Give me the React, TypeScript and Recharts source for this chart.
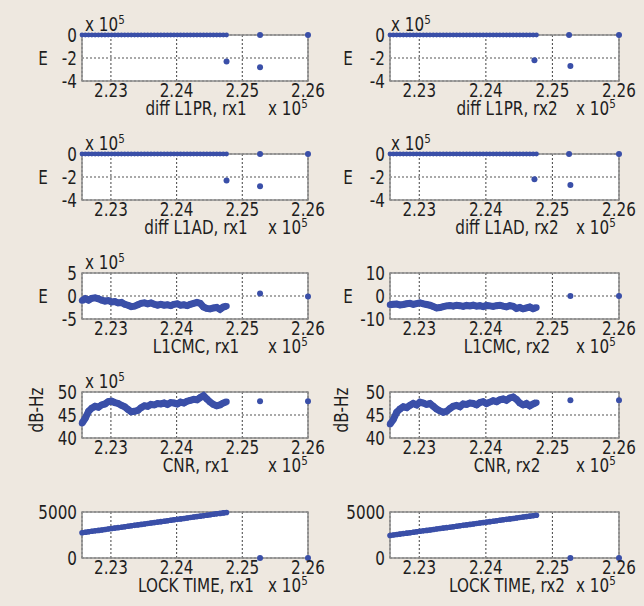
import { ComposedChart, Line, Scatter, XAxis, YAxis, CartesianGrid, ReferenceArea } from 'recharts';

// time axis (s), shared by every dense series
const TIMES = [
  222560, 222610, 222660, 222710, 222760, 222810, 222860, 222910, 222960, 223010,
  223060, 223110, 223160, 223210, 223260, 223310, 223360, 223410, 223460, 223510,
  223560, 223610, 223660, 223710, 223760, 223810, 223860, 223910, 223960, 224010,
  224060, 224110, 224160, 224210, 224260, 224310, 224360, 224410, 224460, 224510,
  224560, 224610, 224660, 224710, 224760,
];
const X_TICKS = [223000, 224000, 225000, 226000];

const DIFF_DENSE = [
  0, 0, 0, 0, 0, 0, 0, 0, 0, 0, 0, 0, 0, 0, 0, 0, 0, 0, 0, 0, 0, 0, 0,
  0, 0, 0, 0, 0, 0, 0, 0, 0, 0, 0, 0, 0, 0, 0, 0, 0, 0, 0, 0, 0, 0,
];
const DIFF_OUT_T_RX1 = [224760, 225270, 225270, 226000];
const DIFF_OUT_V_RX1 = [-2.3, 0, -2.8, 0];
const DIFF_OUT_T_RX2 = [224730, 225250, 225270, 226000];
const DIFF_OUT_V_RX2 = [-2.2, 0, -2.7, 0];

const L1CMC_RX1 = [
  -1.0, -0.6, -0.9, -0.5, -0.4, -0.6, -0.9, -1.1, -1.0, -1.3,
  -1.2, -1.5, -1.4, -1.8, -2.0, -2.3, -2.2, -1.9, -1.6, -1.5,
  -1.7, -1.5, -1.8, -2.0, -1.8, -2.0, -1.9, -2.1, -1.8, -1.7,
  -2.0, -1.9, -2.1, -1.8, -1.6, -1.4, -1.6, -2.4, -2.7, -2.8,
  -2.6, -2.5, -2.9, -2.4, -2.2,
];
const L1CMC_RX2 = [
  -3.8, -3.6, -3.5, -3.9, -3.7, -3.4, -3.2, -3.6, -3.3, -3.0,
  -3.4, -3.7, -4.0, -4.6, -5.2, -5.0, -4.6, -4.3, -4.1, -4.4,
  -4.0, -4.2, -4.5, -4.1, -4.3, -4.0, -4.4, -4.2, -4.6, -4.1,
  -4.3, -4.5, -4.2, -4.0, -4.4, -4.7, -4.2, -4.5, -5.4, -5.0,
  -5.6, -5.2, -4.8, -5.5, -5.0,
];
const CNR_RX1 = [
  43.2, 44.3, 45.8, 46.5, 46.9, 46.7, 47.2, 47.4, 47.9, 48.0,
  47.7, 47.5, 47.1, 46.8, 46.2, 45.7, 45.8, 46.0, 46.6, 47.0,
  46.9, 47.3, 47.2, 47.5, 47.4, 47.6, 47.3, 47.7, 47.6, 47.4,
  47.8, 47.6, 48.0, 48.2, 48.4, 48.3, 48.8, 49.2, 48.5, 47.8,
  47.3, 47.0, 47.2, 47.6, 47.9,
];
const CNR_RX2 = [
  43.0, 44.0, 45.6, 46.3, 46.8, 46.6, 47.1, 47.5, 47.2, 47.8,
  47.6, 47.3, 47.5, 46.9, 46.3, 45.9, 45.6, 45.8, 46.4, 46.9,
  47.1, 46.8, 47.4, 47.3, 47.6, 47.5, 47.2, 47.7, 47.9, 47.5,
  47.8, 48.1, 47.9, 48.3, 48.5, 48.2, 48.7, 48.9, 48.4, 47.6,
  47.2, 47.5, 47.0, 47.4, 47.7,
];
const LOCK_RX1 = [
  2750, 2800, 2850, 2900, 2950, 3000, 3050, 3100, 3150, 3200,
  3250, 3300, 3350, 3400, 3450, 3500, 3550, 3600, 3650, 3700,
  3750, 3800, 3850, 3900, 3950, 4000, 4050, 4100, 4150, 4200,
  4250, 4300, 4350, 4400, 4450, 4500, 4550, 4600, 4650, 4700,
  4750, 4800, 4850, 4900, 4950,
];
const LOCK_RX2 = [
  2450, 2500, 2550, 2600, 2650, 2700, 2750, 2800, 2850, 2900,
  2950, 3000, 3050, 3100, 3150, 3200, 3250, 3300, 3350, 3400,
  3450, 3500, 3550, 3600, 3650, 3700, 3750, 3800, 3850, 3900,
  3950, 4000, 4050, 4100, 4150, 4200, 4250, 4300, 4350, 4400,
  4450, 4500, 4550, 4600, 4650,
];
const OUT_T = [225270, 226000];
const L1CMC_OUT_RX1 = [0.55, -0.1];
const L1CMC_OUT_RX2 = [0, 0];
const CNR_OUT_RX1 = [48.0, 48.0];
const CNR_OUT_RX2 = [48.2, 48.2];
const LOCK_OUT = [0, 0];

const BLUE = '#3a4fa8';
const BG = '#eee8e0';
const INK = '#1e1e1e';
const FONT = '"DejaVu Sans", sans-serif';
const FS = 19;
const SX = 0.8; // horizontal squeeze, the original lettering is condensed
const Y_W = 40;
const PLOT_H = 46;
const M_TOP = 14;
const ROW_TOPS = [35, 154, 273, 392, 512];
const COLS = [
  { left: 0, width: 330, plotLeft: 82, plotRight: 308, titleX: 196, expX: 268, topExpX: 85, ylabX: 43 },
  { left: 320, width: 324, plotLeft: 390, plotRight: 619, titleX: 507, expX: 576, topExpX: 391, ylabX: 348 },
];

type PanelDef = {
  row: number;
  col: number;
  title: string;
  ylabel: string;
  topExp: boolean;
  dense: number[];
  outT: number[];
  outV: number[];
  yDomain: [number, number];
  yTicks: number[];
  lw: number;
  r: number;
};

const PANELS: PanelDef[] = [
  { row: 0, col: 0, title: 'diff L1PR, rx1', ylabel: 'E', topExp: true, dense: DIFF_DENSE, outT: DIFF_OUT_T_RX1, outV: DIFF_OUT_V_RX1, yDomain: [-4, 0], yTicks: [-4, -2, 0], lw: 4, r: 2.4 },
  { row: 0, col: 1, title: 'diff L1PR, rx2', ylabel: 'E', topExp: true, dense: DIFF_DENSE, outT: DIFF_OUT_T_RX2, outV: DIFF_OUT_V_RX2, yDomain: [-4, 0], yTicks: [-4, -2, 0], lw: 4, r: 2.4 },
  { row: 1, col: 0, title: 'diff L1AD, rx1', ylabel: 'E', topExp: true, dense: DIFF_DENSE, outT: DIFF_OUT_T_RX1, outV: DIFF_OUT_V_RX1, yDomain: [-4, 0], yTicks: [-4, -2, 0], lw: 4, r: 2.4 },
  { row: 1, col: 1, title: 'diff L1AD, rx2', ylabel: 'E', topExp: true, dense: DIFF_DENSE, outT: DIFF_OUT_T_RX2, outV: DIFF_OUT_V_RX2, yDomain: [-4, 0], yTicks: [-4, -2, 0], lw: 4, r: 2.4 },
  { row: 2, col: 0, title: 'L1CMC, rx1', ylabel: 'E', topExp: true, dense: L1CMC_RX1, outT: OUT_T, outV: L1CMC_OUT_RX1, yDomain: [-5, 5], yTicks: [-5, 0, 5], lw: 7, r: 3.2 },
  { row: 2, col: 1, title: 'L1CMC, rx2', ylabel: 'E', topExp: false, dense: L1CMC_RX2, outT: OUT_T, outV: L1CMC_OUT_RX2, yDomain: [-10, 10], yTicks: [-10, 0, 10], lw: 7, r: 3.2 },
  { row: 3, col: 0, title: 'CNR, rx1', ylabel: 'dB-Hz', topExp: true, dense: CNR_RX1, outT: OUT_T, outV: CNR_OUT_RX1, yDomain: [40, 50], yTicks: [40, 45, 50], lw: 7, r: 3.2 },
  { row: 3, col: 1, title: 'CNR, rx2', ylabel: 'dB-Hz', topExp: false, dense: CNR_RX2, outT: OUT_T, outV: CNR_OUT_RX2, yDomain: [40, 50], yTicks: [40, 45, 50], lw: 7, r: 3.2 },
  { row: 4, col: 0, title: 'LOCK TIME, rx1', ylabel: '', topExp: false, dense: LOCK_RX1, outT: OUT_T, outV: LOCK_OUT, yDomain: [0, 5000], yTicks: [0, 5000], lw: 5, r: 2.8 },
  { row: 4, col: 1, title: 'LOCK TIME, rx2', ylabel: '', topExp: false, dense: LOCK_RX2, outT: OUT_T, outV: LOCK_OUT, yDomain: [0, 5000], yTicks: [0, 5000], lw: 5, r: 2.8 },
];

const xTick = (props: any) => (
  <text
    transform={`translate(${props.x} ${props.y}) scale(${SX} 1)`}
    textAnchor="middle"
    dy="0.71em"
    fontSize={FS}
    fontFamily={FONT}
    fill={INK}
  >
    {(props.payload.value / 1e5).toFixed(2)}
  </text>
);

const yTick = (props: any) => (
  <text
    transform={`translate(${props.x} ${props.y}) scale(${SX} 1)`}
    textAnchor="end"
    dy="0.36em"
    fontSize={FS}
    fontFamily={FONT}
    fill={INK}
  >
    {props.payload.value}
  </text>
);

function Panel({ p }: { p: PanelDef }) {
  const c = COLS[p.col];
  const top = ROW_TOPS[p.row];
  const denseData = TIMES.map((t, i) => ({ t, v: p.dense[i] }));
  const outData = p.outT.map((t, i) => ({ t, v: p.outV[i] }));
  const mLeft = c.plotLeft - c.left - Y_W;
  const mRight = c.left + c.width - c.plotRight;
  return (
    <div style={{ position: 'absolute', left: c.left, top: top - M_TOP }}>
      <ComposedChart width={c.width} height={PLOT_H + M_TOP + 30} margin={{ top: M_TOP, right: mRight, bottom: 0, left: mLeft }}>
        <CartesianGrid fill="#ffffff" stroke="#555" strokeDasharray="2 2" strokeWidth={1.1} />
        <XAxis
          type="number"
          dataKey="t"
          domain={[222560, 226000]}
          ticks={X_TICKS}
          height={30}
          tickSize={0}
          tickMargin={3}
          axisLine={false}
          tick={xTick}
          interval={0}
        />
        <YAxis
          type="number"
          domain={p.yDomain}
          ticks={p.yTicks}
          width={Y_W}
          tickSize={0}
          tickMargin={5}
          axisLine={false}
          tick={yTick}
          interval={0}
        />
        <ReferenceArea
          x1={222560}
          x2={226000}
          y1={p.yDomain[0]}
          y2={p.yDomain[1]}
          fill="none"
          stroke="#8c8c8c"
          strokeWidth={1.5}
          ifOverflow="visible"
        />
        <Line
          data={denseData}
          dataKey="v"
          type="linear"
          stroke={BLUE}
          strokeWidth={p.lw}
          dot={{ r: p.r, fill: BLUE, stroke: 'none' }}
          isAnimationActive={false}
        />
        <Scatter
          data={outData}
          dataKey="v"
          isAnimationActive={false}
          shape={(s: any) => <circle cx={s.cx} cy={s.cy} r={3} fill={BLUE} />}
        />
      </ComposedChart>
    </div>
  );
}

function Label({ x, y, anchor, rotate, children }: { x: number; y: number; anchor?: string; rotate?: boolean; children: any }) {
  return (
    <text
      transform={`translate(${x} ${y})${rotate ? ' rotate(-90)' : ''} scale(${SX} 1)`}
      textAnchor={anchor || 'start'}
      fontSize={FS}
      fontFamily={FONT}
      fill={INK}
    >
      {children}
    </text>
  );
}

function Exp({ x, y }: { x: number; y: number }) {
  return (
    <Label x={x} y={y}>
      x 10<tspan dy={-7} fontSize={13}>5</tspan>
    </Label>
  );
}

export default function App() {
  return (
    <div style={{ position: 'absolute', left: 0, top: 0, width: 644, height: 606, background: BG, overflow: 'hidden' }}>
      {PANELS.map((p, i) => (
        <Panel key={i} p={p} />
      ))}
      <svg width={644} height={606} style={{ position: 'absolute', left: 0, top: 0, pointerEvents: 'none' }}>
        {PANELS.map((p, i) => {
          const c = COLS[p.col];
          const top = ROW_TOPS[p.row];
          const bottom = top + PLOT_H;
          return (
            <g key={i}>
              <Label x={c.titleX} y={bottom + 34} anchor="middle">
                {p.title}
              </Label>
              <Exp x={c.expX} y={bottom + 34} />
              {p.topExp && <Exp x={c.topExpX} y={top - 4} />}
              {p.ylabel === 'E' && (
                <Label x={c.ylabX} y={top + 30} anchor="middle">
                  E
                </Label>
              )}
              {p.ylabel === 'dB-Hz' && (
                <Label x={c.ylabX} y={top + 18} anchor="middle" rotate>
                  dB-Hz
                </Label>
              )}
            </g>
          );
        })}
      </svg>
    </div>
  );
}
